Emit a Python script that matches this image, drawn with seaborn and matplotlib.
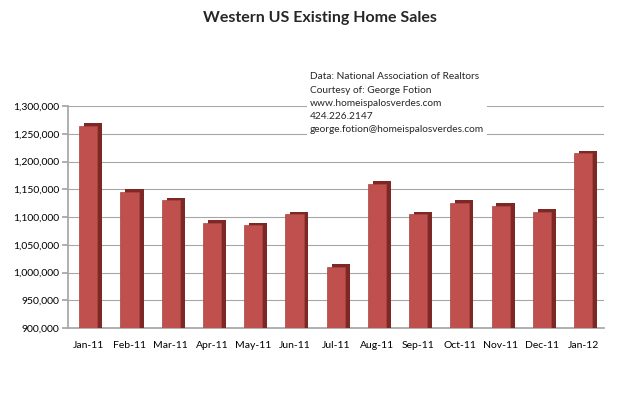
import matplotlib
matplotlib.use("Agg")
import matplotlib.pyplot as plt
import matplotlib.patheffects as pe
from matplotlib.ticker import FuncFormatter, MultipleLocator
import seaborn as sns
import pandas as pd

months = ["Jan-11", "Feb-11", "Mar-11", "Apr-11", "May-11", "Jun-11", "Jul-11",
          "Aug-11", "Sep-11", "Oct-11", "Nov-11", "Dec-11", "Jan-12"]
sales = [1265000, 1145000, 1130000, 1090000, 1085000, 1105000, 1010000,
         1160000, 1105000, 1125000, 1120000, 1110000, 1215000]
title = "Western US Existing Home Sales"
note_lines = ["Data: National Association of Realtors",
              "Courtesy of: George Fotion",
              "www.homeispalosverdes.com",
              "424.226.2147",
              "george.fotion@homeispalosverdes.com"]

df = pd.DataFrame({"month": months, "sales": sales})

sns.set_theme(style="white")
plt.rcParams["font.family"] = ["Lato", "DejaVu Sans"]

fig = plt.figure(figsize=(6.27, 3.93), dpi=100)
ax = fig.add_axes([0.108, 0.165, 0.855, 0.565])

sns.barplot(data=df, x="month", y="sales", color="#C0504D", width=0.44,
            saturation=1, ax=ax, zorder=3)
for p in ax.patches:
    p.set_path_effects([pe.SimplePatchShadow(offset=(3.5, 2), shadow_rgbFace="#7E2826", alpha=1.0),
                        pe.Normal()])
    p.set_edgecolor("#A84442")
    p.set_linewidth(0.5)

ax.set_ylim(900000, 1300000)
ax.yaxis.set_major_locator(MultipleLocator(50000))
ax.yaxis.set_major_formatter(FuncFormatter(lambda v, _: f"{int(v):,}"))
ax.grid(axis="y", color="#A6A6A6", linewidth=0.8, zorder=0)
ax.set_xlabel("")
ax.set_ylabel("")
for s in ["top", "right"]:
    ax.spines[s].set_visible(False)
ax.spines["left"].set_color("#A6A6A6")
ax.spines["bottom"].set_color("#A6A6A6")
ax.tick_params(axis="y", labelsize=7.5, colors="black", length=4, color="#A6A6A6", left=True, pad=2)
ax.tick_params(axis="x", labelsize=7.5, colors="black", length=0, pad=9)

fig.text(0.51, 0.955, title, ha="center", va="center", fontsize=11.5, fontweight="bold")
fig.text(0.494, 0.737, "\n".join(note_lines), ha="left", va="center", fontsize=7.3,
         linespacing=1.6, bbox=dict(facecolor="white", edgecolor="none", pad=2), zorder=5)

fig.savefig("out.png", dpi=100)
